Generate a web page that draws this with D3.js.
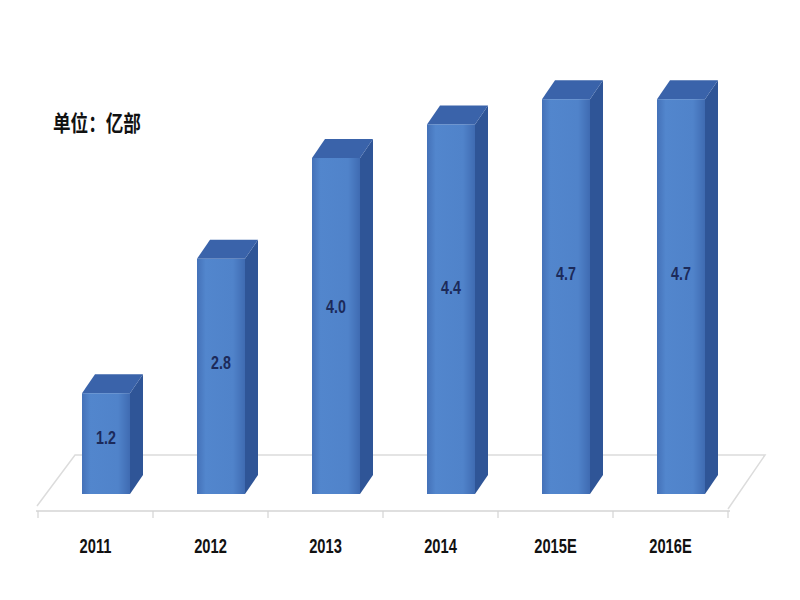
<!DOCTYPE html>
<html>
<head>
<meta charset="utf-8">
<script src="https://cdn.jsdelivr.net/npm/d3@7"></script>
<style>
  body { margin: 0; background: #fff; }
</style>
</head>
<body>
<svg id="chart" width="800" height="600"></svg>
<script>
const categories = ["2011", "2012", "2013", "2014", "2015E", "2016E"];
const values = [1.2, 2.8, 4.0, 4.4, 4.7, 4.7];
const valueLabels = ["1.2", "2.8", "4.0", "4.4", "4.7", "4.7"];
const unitLabel = "单位：亿部";

const svg = d3.select("#chart");
const base = 494;
const narrow = "'Liberation Sans', Arial, sans-serif";

const x = d3.scaleBand()
  .domain(categories)
  .range([38, 728])
  .padding(0);

const y = d3.scaleLinear()
  .domain([0, 5])
  .range([base, base - 420]);

const barW = 48, barOff = 44;   // front face width / offset inside band
const dx = 13, dy = -19;        // 3d depth

const defs = svg.append("defs");
const grad = defs.append("linearGradient").attr("id", "front")
  .attr("x1", "0%").attr("x2", "100%").attr("y1", "0%").attr("y2", "0%");
[["0%", "#4471b8"], ["18%", "#5286cd"], ["75%", "#5083ca"], ["100%", "#3f6bb2"]]
  .forEach(s => grad.append("stop").attr("offset", s[0]).attr("stop-color", s[1]));

// floor
const floorFront = base + 17, floorBack = base - 39;
svg.append("path")
  .attr("d", `M37,${floorFront - 5} L75,${floorBack} L765,${floorBack} L728,${floorFront - 2}`)
  .attr("fill", "none")
  .attr("stroke", "#dcdcdc")
  .attr("stroke-width", 1.5);

// axis line + boundary ticks
svg.append("line")
  .attr("x1", 36).attr("x2", 730)
  .attr("y1", floorFront).attr("y2", floorFront)
  .attr("stroke", "#d4d4d4").attr("stroke-width", 1.5);

const bounds = categories.map(c => x(c)).concat([x.range()[1]]);
svg.selectAll("line.tick")
  .data(bounds)
  .join("line")
  .attr("class", "tick")
  .attr("x1", d => d).attr("x2", d => d)
  .attr("y1", floorFront).attr("y2", floorFront + 7)
  .attr("stroke", "#d4d4d4").attr("stroke-width", 1.2);

// category labels
svg.append("g")
  .attr("transform", `translate(0,${floorFront + 21})`)
  .call(d3.axisBottom(x).tickSize(0).tickPadding(6))
  .call(g => g.select(".domain").remove())
  .selectAll("text")
  .attr("transform", "scale(0.7,1)")
  .attr("font-family", narrow)
  .attr("font-weight", "bold")
  .attr("font-size", 21)
  .attr("fill", "#111");

// bars
const bars = svg.selectAll("g.bar")
  .data(categories.map((c, i) => ({ c, v: values[i], label: valueLabels[i] })))
  .join("g")
  .attr("class", "bar");

bars.append("path")  // side
  .attr("d", d => {
    const x0 = x(d.c) + barOff + barW, t = y(d.v);
    return `M${x0},${t} L${x0 + dx},${t + dy} L${x0 + dx},${base + dy} L${x0},${base} Z`;
  })
  .attr("fill", "#2f5597");

bars.append("path")  // top
  .attr("d", d => {
    const x0 = x(d.c) + barOff, t = y(d.v);
    return `M${x0},${t} L${x0 + dx},${t + dy} L${x0 + barW + dx},${t + dy} L${x0 + barW},${t} Z`;
  })
  .attr("fill", "#3a63aa");

bars.append("rect")  // front
  .attr("x", d => x(d.c) + barOff)
  .attr("y", d => y(d.v))
  .attr("width", barW)
  .attr("height", d => base - y(d.v))
  .attr("fill", "url(#front)");

bars.append("text")
  .attr("transform", d => `translate(${x(d.c) + barOff + barW / 2},${y(d.v * 0.56)}) scale(0.75,1)`)
  .attr("dy", "0.35em")
  .attr("text-anchor", "middle")
  .attr("font-family", narrow)
  .attr("font-weight", "bold")
  .attr("font-size", 19)
  .attr("fill", "#1c2a5a")
  .text(d => d.label);

// unit label
svg.append("text")
  .attr("transform", "translate(53,131) scale(0.8,1)")
  .attr("font-family", "'Noto Sans CJK SC', sans-serif")
  .attr("font-weight", "bold")
  .attr("font-size", 22)
  .attr("fill", "#111")
  .text(unitLabel);
</script>
</body>
</html>
